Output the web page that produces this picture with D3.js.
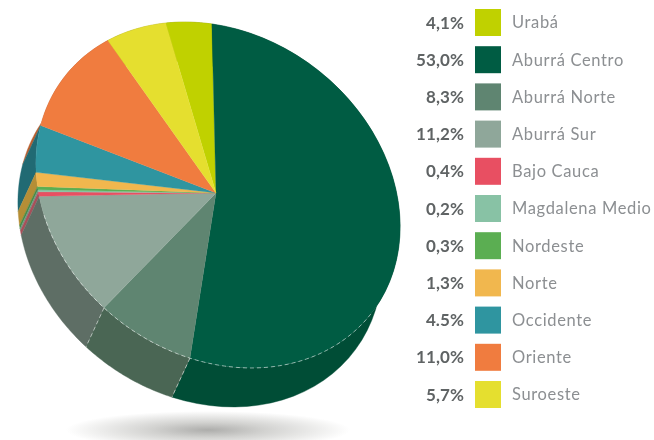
<!DOCTYPE html>
<html><head><meta charset="utf-8">
<script src="https://cdn.jsdelivr.net/npm/d3@7"></script>
<style>html,body{margin:0;padding:0;background:#fff}svg{display:block;filter:blur(0.55px)}</style>
</head><body><svg id="c" width="654" height="440"></svg>
<script>
const categories = ["Urabá","Aburrá Centro","Aburrá Norte","Aburrá Sur","Bajo Cauca","Magdalena Medio","Nordeste","Norte","Occidente","Oriente","Suroeste"];
const values = [4.1,53.0,8.3,11.2,0.4,0.2,0.3,1.3,4.5,11.0,5.7];
const valueLabels = ["4,1%","53,0%","8,3%","11,2%","0,4%","0,2%","0,3%","1,3%","4.5%","11,0%","5,7%"];
const colors = ["#c0d100","#005c43","#5f8571","#8fa79a","#e84f62","#88c2a5","#5bae52","#f1b74e","#2f95a0","#f07c3f","#e5df2f"];
const wallColors = ["#8f9b05","#004d36","#4a6654","#5e6e65","#a8505a","#6a9a84","#4a8a45","#b58e36","#216a73","#b85f30","#aaa528"];

const svg = d3.select("#c");
const cx=218, cy=195, apex=[216,193], U=[182,26], V=[-6,-171], drop=[-18,39];
const project=t=>[cx+Math.sin(t)*U[0]+Math.cos(t)*V[0], cy+Math.sin(t)*U[1]+Math.cos(t)*V[1]];

const startDeg=-14.8;
const pie=d3.pie().sort(null).startAngle(startDeg*Math.PI/180).endAngle((startDeg+360)*Math.PI/180)(values);
const defs=svg.append("defs");
const g=defs.append("radialGradient").attr("id","sh");
g.append("stop").attr("offset","0%").attr("stop-color","#adadab");
g.append("stop").attr("offset","40%").attr("stop-color","#d2d2d0");
g.append("stop").attr("offset","75%").attr("stop-color","#ececeb");
g.append("stop").attr("offset","100%").attr("stop-color","#fff");
svg.append("ellipse").attr("cx",208).attr("cy",430).attr("rx",142).attr("ry",19).attr("fill","url(#sh)");

const line=d3.line();
const sample=(a,b,n=48)=>d3.range(n+1).map(i=>project(a+(b-a)*i/n));
const walls=pie.map((d,i)=>{
  const top=sample(d.startAngle,d.endAngle), bot=top.map(p=>[p[0]+drop[0],p[1]+drop[1]]).reverse();
  return {i,pts:top.concat(bot),my:d3.mean(top,p=>p[1])};
}).sort((a,b)=>a.my-b.my);
svg.append("g").selectAll("path").data(walls).join("path")
  .attr("d",d=>line(d.pts)+"Z").attr("fill",d=>wallColors[d.i]).attr("stroke",d=>wallColors[d.i]).attr("stroke-width",0.4);

svg.append("g").selectAll("path").data(pie).join("path")
  .attr("d",d=>line([apex,...sample(d.startAngle,d.endAngle,Math.max(4,Math.round((d.endAngle-d.startAngle)*40)))])+"Z")
  .attr("fill",(d,i)=>colors[i]).attr("stroke",(d,i)=>colors[i]).attr("stroke-width",0.3);

// dashed white seams along the front of the slab
const dash=svg.append("g").attr("fill","none").attr("stroke","#fff").attr("stroke-opacity",0.6).attr("stroke-width",0.9).attr("stroke-dasharray","4,3");
const centro=pie[1], norte=pie[2], sur=pie[3];
dash.append("path").attr("d",line(sample(centro.endAngle-1.15,sur.endAngle-0.1,140)));
[centro.endAngle,norte.endAngle].forEach(t=>{
  const p=project(t); dash.append("path").attr("d",line([p,[p[0]+drop[0],p[1]+drop[1]]]));
});

const y=d3.scalePoint().domain(categories).range([22.5,394.5]);
const rows=svg.append("g").selectAll("g").data(categories).join("g").attr("transform",d=>`translate(0,${y(d)})`);
rows.append("rect").attr("x",475).attr("y",-13.5).attr("width",26).attr("height",27).attr("fill",(d,i)=>colors[i]);
rows.append("text").attr("x",464).attr("dy","0.36em").attr("text-anchor","end")
  .attr("font-family","Lato").attr("font-size",17).attr("font-weight",700).attr("fill","#5f6364").attr("letter-spacing",0.1)
  .text((d,i)=>valueLabels[i]);
rows.append("text").attr("x",512).attr("dy","0.36em")
  .attr("font-family","Lato").attr("font-size",16.5).attr("fill","#8c8f92").attr("letter-spacing",0.65)
  .text(d=>d);
</script></body></html>
